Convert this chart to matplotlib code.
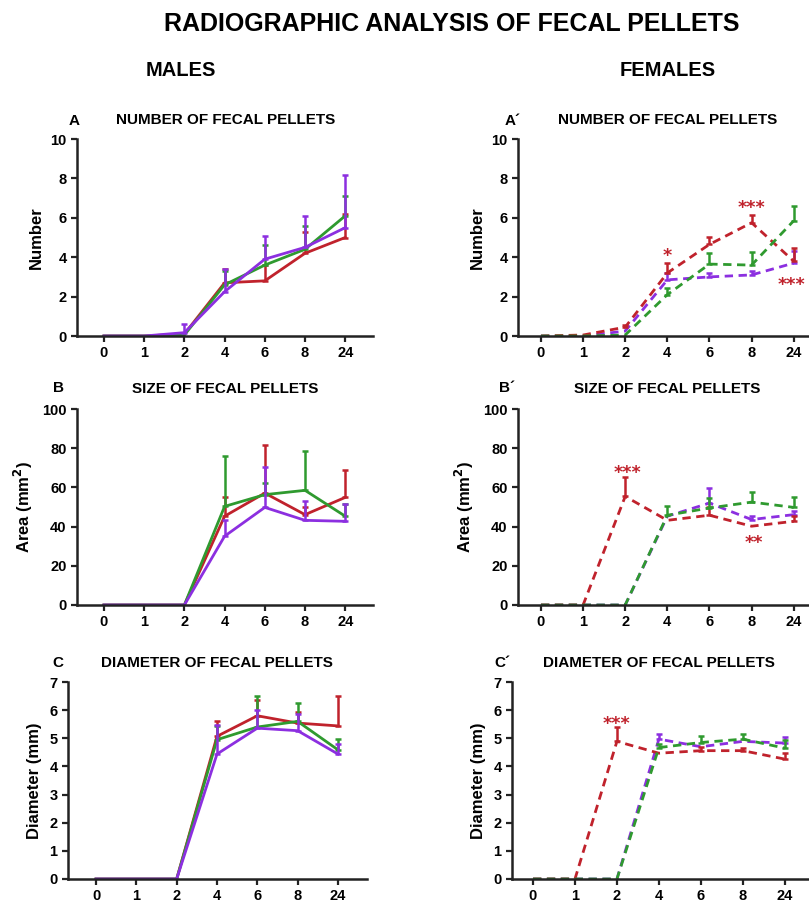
import numpy as np
import matplotlib
matplotlib.use("Agg")
import matplotlib.pyplot as plt

plt.rcParams["font.family"] = ["Liberation Sans", "DejaVu Sans"]
plt.rcParams["font.weight"] = "bold"
plt.rcParams["axes.labelweight"] = "bold"

# x categories (hours)
hours = ["0", "1", "2", "4", "6", "8", "24"]

# ---- males (solid lines): mean and top of error bar (None = no bar)
num_m_red = [0, 0, 0.1, 2.7, 2.8, 4.2, 5.0]
num_m_red_top = [None, None, None, 3.4, 3.6, 5.3, 6.2]
num_m_green = [0, 0, 0.05, 2.6, 3.6, 4.4, 6.1]
num_m_green_top = [None, None, None, 3.3, 4.6, 5.6, 7.1]
num_m_purple = [0, 0, 0.17, 2.25, 3.9, 4.5, 5.5]
num_m_purple_top = [None, None, 0.6, 3.4, 5.1, 6.1, 8.15]

size_m_red = [0, 0, 0, 45.3, 57.1, 46.1, 54.9]
size_m_red_top = [None, None, None, 55, 81.7, 50, 69]
size_m_green = [0, 0, 0, 50.3, 56.3, 58.5, 45.3]
size_m_green_top = [None, None, None, 76, 62, 78.8, 51.7]
size_m_purple = [0, 0, 0, 35.1, 49.8, 43.2, 42.7]
size_m_purple_top = [None, None, None, 43.2, 70.3, 52.9, 51.5]

diam_m_red = [0, 0, 0, 5.07, 5.8, 5.54, 5.44]
diam_m_red_top = [None, None, None, 5.6, 6.37, 5.95, 6.51]
diam_m_green = [0, 0, 0, 4.95, 5.4, 5.6, 4.59]
diam_m_green_top = [None, None, None, 5.45, 6.51, 6.27, 4.98]
diam_m_purple = [0, 0, 0, 4.44, 5.36, 5.27, 4.44]
diam_m_purple_top = [None, None, None, 5.48, 6.01, 5.87, 4.8]

# ---- females (dashed lines)
num_f_red = [0, 0.05, 0.45, 3.2, 4.65, 5.75, 3.8]
num_f_red_top = [None, None, 0.55, 3.7, 5.05, 6.15, 4.45]
num_f_green = [0, 0, 0.05, 2.1, 3.65, 3.6, 5.85]
num_f_green_top = [None, None, None, 2.45, 4.2, 4.25, 6.6]
num_f_purple = [0, 0, 0.25, 2.85, 3.0, 3.1, 3.7]
num_f_purple_top = [None, None, None, 3.2, 3.2, 3.3, 4.3]

size_f_red = [0, 0, 55.4, 43.2, 45.8, 40.2, 42.7]
size_f_red_top = [None, None, 65.3, None, 50, None, 45.3]
size_f_green = [0, 0, 0, 45.8, 49.5, 52.5, 49.8]
size_f_green_top = [None, None, None, 50.3, 54.6, 57.5, 54.9]
size_f_purple = [0, 0, 0, 45.3, 52, 43.6, 46.1]
size_f_purple_top = [None, None, None, None, 59.7, 45.3, 47.8]

diam_f_red = [0, 0, 4.89, 4.47, 4.56, 4.56, 4.26]
diam_f_red_top = [None, None, 5.4, None, 4.68, 4.65, 4.47]
diam_f_green = [0, 0, 0, 4.67, 4.85, 4.97, 4.65]
diam_f_green_top = [None, None, None, 4.8, 5.07, 5.16, 4.95]
diam_f_purple = [0, 0, 0, 4.97, 4.7, 4.89, 4.83]
diam_f_purple_top = [None, None, None, 5.15, None, None, 5.04]

RED = "#c0222c"
GREEN = "#2f9a2f"
PURPLE = "#8c2fe0"

W, H = 809, 902
fig = plt.figure(figsize=(W / 100, H / 100), dpi=100)


def px_axes(left, top, bottom, width):
    return fig.add_axes([left / W, 1 - bottom / H, width / W, (bottom - top) / H])


def draw(ax, series, ls):
    x = np.arange(len(hours))
    for y, top, col in series:
        y = np.array(y, dtype=float)
        ax.plot(x, y, color=col, lw=2, ls=ls, dashes=(3, 2) if ls == "--" else (None, None))
        m = np.array([t is not None for t in top])
        t = np.array([v if v is not None else 0 for v in top], dtype=float)
        err = t[m] - y[m]
        ax.errorbar(x[m], y[m], yerr=[np.zeros_like(err), err], fmt="none",
                    ecolor=col, elinewidth=1.8, capsize=2.5, capthick=1.8)


def style(ax, xlim, ymax, ystep, ylabel):
    ax.set_xlim(*xlim)
    ax.set_ylim(0, ymax)
    ax.set_xticks(range(len(hours)))
    ax.set_xticklabels(hours)
    ax.set_yticks(np.arange(0, ymax + 0.01, ystep))
    for s in ["top", "right"]:
        ax.spines[s].set_visible(False)
    for s in ["left", "bottom"]:
        ax.spines[s].set_linewidth(1.8)
        ax.spines[s].set_color("#222222")
    ax.tick_params(width=1.6, length=4, labelsize=10.5, color="#222222")
    ax.set_ylabel(ylabel, fontsize=12, labelpad=5)
    for lab in ax.get_xticklabels() + ax.get_yticklabels():
        lab.set_fontweight("bold")


# males
axA = px_axes(77, 139, 336, 296)
draw(axA, [(num_m_red, num_m_red_top, RED), (num_m_green, num_m_green_top, GREEN),
           (num_m_purple, num_m_purple_top, PURPLE)], "-")
style(axA, (-0.67, 6.69), 10, 2, "Number")

axB = px_axes(77, 409, 605, 296)
draw(axB, [(size_m_red, size_m_red_top, RED), (size_m_green, size_m_green_top, GREEN),
           (size_m_purple, size_m_purple_top, PURPLE)], "-")
style(axB, (-0.67, 6.69), 100, 20, "Area (mm$^\\mathbf{2}$)")

axC = px_axes(68, 682, 879, 299)
draw(axC, [(diam_m_red, diam_m_red_top, RED), (diam_m_green, diam_m_green_top, GREEN),
           (diam_m_purple, diam_m_purple_top, PURPLE)], "-")
style(axC, (-0.695, 6.72), 7, 1, "Diameter (mm)")

# females
axA2 = px_axes(518, 139, 336, 301)
draw(axA2, [(num_f_purple, num_f_purple_top, PURPLE), (num_f_red, num_f_red_top, RED),
            (num_f_green, num_f_green_top, GREEN)], "--")
style(axA2, (-0.545, 6.6), 10, 2, "Number")

axB2 = px_axes(518, 409, 605, 301)
draw(axB2, [(size_f_purple, size_f_purple_top, PURPLE), (size_f_red, size_f_red_top, RED),
            (size_f_green, size_f_green_top, GREEN)], "--")
style(axB2, (-0.545, 6.6), 100, 20, "Area (mm$^\\mathbf{2}$)")

axC2 = px_axes(512, 682, 879, 298)
draw(axC2, [(diam_f_purple, diam_f_purple_top, PURPLE), (diam_f_red, diam_f_red_top, RED),
            (diam_f_green, diam_f_green_top, GREEN)], "--")
style(axC2, (-0.5, 6.6), 7, 1, "Diameter (mm)")

# significance stars
star_kw = dict(color=RED, fontsize=12.5, fontweight="bold", va="center",
               family=["DejaVu Sans"])
axA2.text(3, 4.05, "*", ha="center", **star_kw)
axA2.text(5, 6.5, "***", ha="center", **star_kw)
axA2.text(6.28, 2.6, "***", ha="right", clip_on=False, **star_kw)
axB2.text(2.05, 67.5, "***", ha="center", **star_kw)
axB2.text(5.05, 31.5, "**", ha="center", **star_kw)
axC2.text(2.0, 5.5, "***", ha="center", **star_kw)


def ftext(x, y, s, **kw):
    fig.text(x / W, 1 - y / H, s, ha="center", va="center", fontweight="bold", **kw)


narrow = ["Liberation Sans Narrow", "Liberation Sans", "DejaVu Sans"]
ftext(452, 24, "RADIOGRAPHIC ANALYSIS OF FECAL PELLETS", fontsize=18, family=narrow)
ftext(181, 71, "MALES", fontsize=14.5, family=narrow)
ftext(668, 71, "FEMALES", fontsize=14.5, family=narrow)

ftext(74, 121, "A", fontsize=11)
ftext(226, 120, "NUMBER OF FECAL PELLETS", fontsize=11)
ftext(513, 121, "A\u00b4", fontsize=11)
ftext(668, 120, "NUMBER OF FECAL PELLETS", fontsize=11)

ftext(58, 388, "B", fontsize=11)
ftext(225, 389, "SIZE OF FECAL PELLETS", fontsize=11)
ftext(507, 388, "B\u00b4", fontsize=11)
ftext(667, 389, "SIZE OF FECAL PELLETS", fontsize=11)

ftext(58, 663, "C", fontsize=11)
ftext(217, 663, "DIAMETER OF FECAL PELLETS", fontsize=11)
ftext(502, 663, "C\u00b4", fontsize=11)
ftext(659, 663, "DIAMETER OF FECAL PELLETS", fontsize=11)

fig.savefig("out.png", dpi=100)
